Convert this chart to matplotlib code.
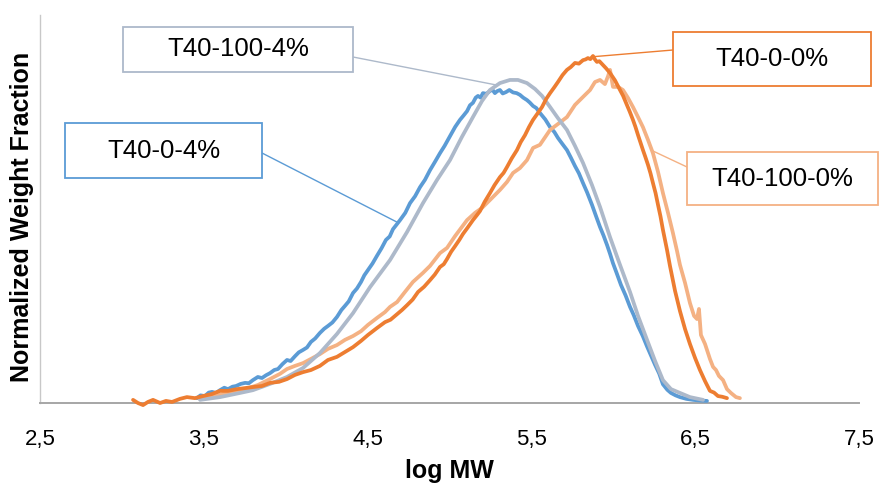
import numpy as np
import matplotlib
matplotlib.use("Agg")
import matplotlib.pyplot as plt
from matplotlib import font_manager
from matplotlib.patches import Rectangle

# ---------------- data ----------------
series_names = ["T40-0-4%", "T40-100-4%", "T40-0-0%", "T40-100-0%"]

blue_x = [3.458, 3.480, 3.507, 3.530, 3.550, 3.575, 3.599, 3.625, 3.648, 3.675,
          3.697, 3.725, 3.752, 3.775, 3.800, 3.830, 3.855, 3.880, 3.904, 3.930,
          3.953, 3.980, 4.008, 4.030, 4.057, 4.080, 4.106, 4.130, 4.154, 4.180,
          4.209, 4.235, 4.258, 4.285, 4.313, 4.340, 4.362, 4.385, 4.411, 4.435,
          4.460, 4.480, 4.502, 4.530, 4.557, 4.585, 4.612, 4.635, 4.655, 4.675,
          4.698, 4.730, 4.759, 4.790, 4.820, 4.850, 4.881, 4.910, 4.942, 4.970,
          5.003, 5.035, 5.064, 5.085, 5.107, 5.125, 5.143, 5.160, 5.174, 5.190,
          5.204, 5.225, 5.247, 5.262, 5.277, 5.292, 5.308, 5.325, 5.345, 5.365,
          5.388, 5.410, 5.430, 5.450, 5.473, 5.490, 5.510, 5.530, 5.552, 5.585,
          5.614, 5.640, 5.662, 5.690, 5.717, 5.740, 5.766, 5.790, 5.815, 5.840,
          5.870, 5.895, 5.919, 5.940, 5.962, 5.980, 5.998, 6.020, 6.047, 6.075,
          6.102, 6.125, 6.151, 6.180, 6.206, 6.230, 6.255, 6.280, 6.303, 6.330,
          6.352, 6.380, 6.407, 6.445, 6.487, 6.530, 6.572]
blue_y = [0.014, 0.022, 0.020, 0.030, 0.032, 0.029, 0.037, 0.044, 0.040, 0.047,
          0.049, 0.055, 0.058, 0.057, 0.066, 0.075, 0.072, 0.080, 0.086, 0.095,
          0.098, 0.112, 0.124, 0.121, 0.135, 0.146, 0.153, 0.160, 0.176, 0.186,
          0.202, 0.214, 0.222, 0.232, 0.248, 0.268, 0.280, 0.293, 0.317, 0.330,
          0.349, 0.368, 0.383, 0.402, 0.424, 0.446, 0.470, 0.480, 0.501, 0.513,
          0.527, 0.548, 0.576, 0.596, 0.622, 0.643, 0.671, 0.694, 0.720, 0.741,
          0.769, 0.796, 0.816, 0.828, 0.841, 0.858, 0.865, 0.880, 0.885, 0.880,
          0.893, 0.891, 0.899, 0.903, 0.893, 0.899, 0.902, 0.892, 0.896, 0.902,
          0.895, 0.893, 0.888, 0.880, 0.873, 0.866, 0.856, 0.850, 0.836, 0.817,
          0.795, 0.781, 0.764, 0.746, 0.729, 0.708, 0.683, 0.662, 0.634, 0.607,
          0.571, 0.538, 0.507, 0.483, 0.455, 0.430, 0.403, 0.375, 0.340, 0.310,
          0.277, 0.253, 0.222, 0.193, 0.163, 0.137, 0.110, 0.085, 0.054, 0.038,
          0.029, 0.022, 0.017, 0.012, 0.009, 0.007, 0.006]

grey_x = [3.477, 3.599, 3.721, 3.800, 3.904, 4.008, 4.106, 4.209, 4.313, 4.411,
          4.515, 4.637, 4.741, 4.838, 4.924, 5.003, 5.076, 5.143, 5.198, 5.247,
          5.308, 5.369, 5.418, 5.473, 5.522, 5.565, 5.614, 5.662, 5.717, 5.766,
          5.815, 5.870, 5.919, 5.980, 6.041, 6.102, 6.151, 6.206, 6.255, 6.303,
          6.352, 6.407, 6.468, 6.548]
grey_y = [0.009, 0.017, 0.029, 0.037, 0.055, 0.075, 0.101, 0.144, 0.199, 0.259,
          0.334, 0.412, 0.493, 0.576, 0.643, 0.700, 0.767, 0.824, 0.870, 0.902,
          0.922, 0.931, 0.931, 0.922, 0.905, 0.885, 0.853, 0.821, 0.787, 0.741,
          0.692, 0.628, 0.565, 0.478, 0.398, 0.320, 0.251, 0.182, 0.121, 0.066,
          0.040, 0.029, 0.017, 0.009]

orange_x = [3.068, 3.098, 3.129, 3.159, 3.190, 3.233, 3.269, 3.306, 3.355, 3.397,
            3.446, 3.495, 3.550, 3.599, 3.648, 3.703, 3.752, 3.800, 3.855, 3.904,
            3.959, 4.008, 4.057, 4.106, 4.154, 4.209, 4.258, 4.313, 4.362, 4.411,
            4.460, 4.502, 4.557, 4.606, 4.640, 4.680, 4.710, 4.741, 4.775, 4.808,
            4.845, 4.881, 4.910, 4.942, 4.965, 4.985, 5.010, 5.034, 5.060, 5.082,
            5.110, 5.143, 5.165, 5.186, 5.215, 5.247, 5.275, 5.308, 5.330, 5.351,
            5.380, 5.412, 5.435, 5.461, 5.485, 5.510, 5.540, 5.565, 5.590, 5.614,
            5.640, 5.662, 5.690, 5.717, 5.740, 5.766, 5.790, 5.815, 5.830, 5.845,
            5.860, 5.876, 5.888, 5.900, 5.915, 5.931, 5.955, 5.980, 6.010, 6.041,
            6.060, 6.083, 6.100, 6.120, 6.135, 6.151, 6.165, 6.181, 6.195, 6.212,
            6.227, 6.242, 6.258, 6.273, 6.288, 6.303, 6.328, 6.346, 6.377, 6.407,
            6.438, 6.468, 6.499, 6.529, 6.560, 6.590, 6.615, 6.639, 6.665, 6.694]
orange_y = [0.009, 0.000, -0.006, 0.003, 0.009, 0.000, 0.006, 0.003, 0.012, 0.017,
            0.014, 0.020, 0.026, 0.035, 0.035, 0.040, 0.043, 0.046, 0.049, 0.058,
            0.061, 0.069, 0.081, 0.089, 0.095, 0.107, 0.124, 0.133, 0.147, 0.161,
            0.179, 0.196, 0.216, 0.233, 0.240, 0.256, 0.268, 0.282, 0.298, 0.320,
            0.335, 0.354, 0.370, 0.392, 0.400, 0.415, 0.436, 0.452, 0.470, 0.487,
            0.505, 0.527, 0.540, 0.553, 0.580, 0.605, 0.628, 0.651, 0.663, 0.680,
            0.705, 0.729, 0.752, 0.772, 0.795, 0.816, 0.836, 0.853, 0.876, 0.893,
            0.910, 0.925, 0.945, 0.960, 0.968, 0.980, 0.978, 0.988, 0.990, 0.994,
            0.991, 1.000, 0.990, 0.983, 0.985, 0.977, 0.965, 0.951, 0.930, 0.902,
            0.885, 0.859, 0.840, 0.816, 0.796, 0.772, 0.752, 0.729, 0.710, 0.686,
            0.662, 0.634, 0.605, 0.571, 0.538, 0.499, 0.441, 0.395, 0.323, 0.265,
            0.213, 0.170, 0.130, 0.095, 0.063, 0.035, 0.030, 0.020, 0.018, 0.014]

light_x = [3.477, 3.568, 3.660, 3.752, 3.831, 3.904, 3.965, 4.008, 4.057, 4.106,
           4.154, 4.209, 4.258, 4.313, 4.362, 4.411, 4.460, 4.502, 4.557, 4.606,
           4.637, 4.680, 4.728, 4.777, 4.838, 4.881, 4.942, 4.985, 5.034, 5.107,
           5.156, 5.198, 5.247, 5.308, 5.351, 5.388, 5.430, 5.473, 5.510, 5.552,
           5.614, 5.662, 5.717, 5.766, 5.815, 5.858, 5.888, 5.919, 5.949, 5.968,
           5.980, 5.998, 6.029, 6.059, 6.090, 6.120, 6.151, 6.181, 6.212, 6.242,
           6.273, 6.303, 6.334, 6.364, 6.389, 6.407, 6.438, 6.468, 6.493, 6.511,
           6.523, 6.535, 6.560, 6.590, 6.609, 6.627, 6.645, 6.670, 6.694, 6.718,
           6.749, 6.773]
light_y = [0.012, 0.020, 0.032, 0.040, 0.052, 0.069, 0.084, 0.098, 0.107, 0.115,
           0.127, 0.141, 0.156, 0.167, 0.182, 0.193, 0.207, 0.225, 0.245, 0.262,
           0.277, 0.291, 0.320, 0.349, 0.375, 0.395, 0.432, 0.447, 0.481, 0.527,
           0.548, 0.562, 0.585, 0.614, 0.637, 0.663, 0.677, 0.700, 0.735, 0.744,
           0.787, 0.804, 0.824, 0.859, 0.882, 0.902, 0.925, 0.931, 0.919, 0.942,
           0.960, 0.911, 0.911, 0.902, 0.879, 0.853, 0.824, 0.795, 0.758, 0.720,
           0.666, 0.605, 0.548, 0.490, 0.438, 0.398, 0.346, 0.288, 0.251, 0.242,
           0.271, 0.196, 0.170, 0.127, 0.104, 0.095, 0.078, 0.066, 0.040, 0.029,
           0.017, 0.014]

xticks = [2.5, 3.5, 4.5, 5.5, 6.5, 7.5]
xtick_labels = ["2,5", "3,5", "4,5", "5,5", "6,5", "7,5"]

# ---------------- style ----------------
C_BLUE = "#5B9BD5"
C_GREY = "#ADB9CA"
C_ORANGE = "#ED7D31"
C_LIGHT = "#F4B183"

names = {f.name for f in font_manager.fontManager.ttflist}
BASE = "Liberation Sans" if "Liberation Sans" in names else "DejaVu Sans"
NARROW = "Liberation Sans Narrow" if "Liberation Sans Narrow" in names else None
plt.rcParams["font.family"] = [BASE, "DejaVu Sans"]

W, H = 880, 488
fig = plt.figure(figsize=(W / 100, H / 100), dpi=100)

def fx(px):
    return px / W

def fy(py):
    return 1 - py / H

ax_l, ax_r, ax_b, ax_t = 40, 859, 403, 15
ax = fig.add_axes([fx(ax_l), fy(ax_b), fx(ax_r - ax_l), (ax_b - ax_t) / H])
ax.set_xlim(2.5, 7.5)
ax.set_ylim(0, (ax_b - ax_t) / 347)

lw = 2.7
kw = dict(lw=lw, clip_on=False, solid_capstyle="round", solid_joinstyle="round")
ax.plot(blue_x, blue_y, color=C_BLUE, zorder=3, **kw)
ax.plot(grey_x, grey_y, color=C_GREY, zorder=4, **kw)
ax.plot(light_x, light_y, color=C_LIGHT, zorder=3, **kw)
ax.plot(orange_x, orange_y, color=C_ORANGE, zorder=4, **kw)

# axes styling
for s in ["top", "right"]:
    ax.spines[s].set_visible(False)
ax.spines["left"].set_color("#C8C8C8")
ax.spines["left"].set_linewidth(1.0)
ax.spines["bottom"].set_color("#A6A6A6")
ax.spines["bottom"].set_linewidth(1.4)
ax.set_yticks([])
ax.set_xticks(xticks)
if NARROW:
    ax.set_xticklabels(xtick_labels, fontsize=20, family=NARROW)
    ax.set_xlabel("log MW", fontsize=21, fontweight="bold", family=NARROW, labelpad=6)
else:
    ax.set_xticklabels(xtick_labels, fontsize=16)
    ax.set_xlabel("log MW", fontsize=18, fontweight="bold", labelpad=6)
ax.tick_params(axis="x", length=0, pad=19, colors="#000000")
ax.set_ylabel("Normalized Weight Fraction", fontsize=18, fontweight="bold")
ax.yaxis.set_label_coords(-0.007, 0.48)

# ---------------- callout boxes ----------------
boxes = [
    # label, color, (left, top, right, bottom) px, series x, series y, target logMW, anchor px
    ("T40-100-4%", C_GREY, (123, 27, 353, 72), grey_x, grey_y, 5.29, (353, 57)),
    ("T40-0-4%", C_BLUE, (65, 123, 262, 178), blue_x, blue_y, 4.686, (262, 153)),
    ("T40-0-0%", C_ORANGE, (673, 32, 871, 86), orange_x, orange_y, 5.872, (673, 50)),
    ("T40-100-0%", C_LIGHT, (687, 152, 878, 205), light_x, light_y, 6.236, (687, 167)),
]
for label, col, (l, t, r, b), sx, sy, tx, (apx, apy) in boxes:
    rect = Rectangle((fx(l), fy(b)), fx(r - l), (b - t) / H, transform=fig.transFigure,
                     facecolor="white", edgecolor=col, lw=1.3, zorder=10)
    fig.patches.append(rect)
    fig.text(fx((l + r) / 2), fy((t + b) / 2), label, fontsize=18.5, ha="center",
             va="center", color="#000000", zorder=11)
    ty = float(np.interp(tx, sx, sy))
    ax.annotate("", xy=(tx, ty), xycoords="data",
                xytext=(fx(apx), fy(apy)), textcoords="figure fraction",
                arrowprops=dict(arrowstyle="-", color=col, lw=1.0,
                                shrinkA=0, shrinkB=0), zorder=9)

fig.savefig("out.png", dpi=100)
